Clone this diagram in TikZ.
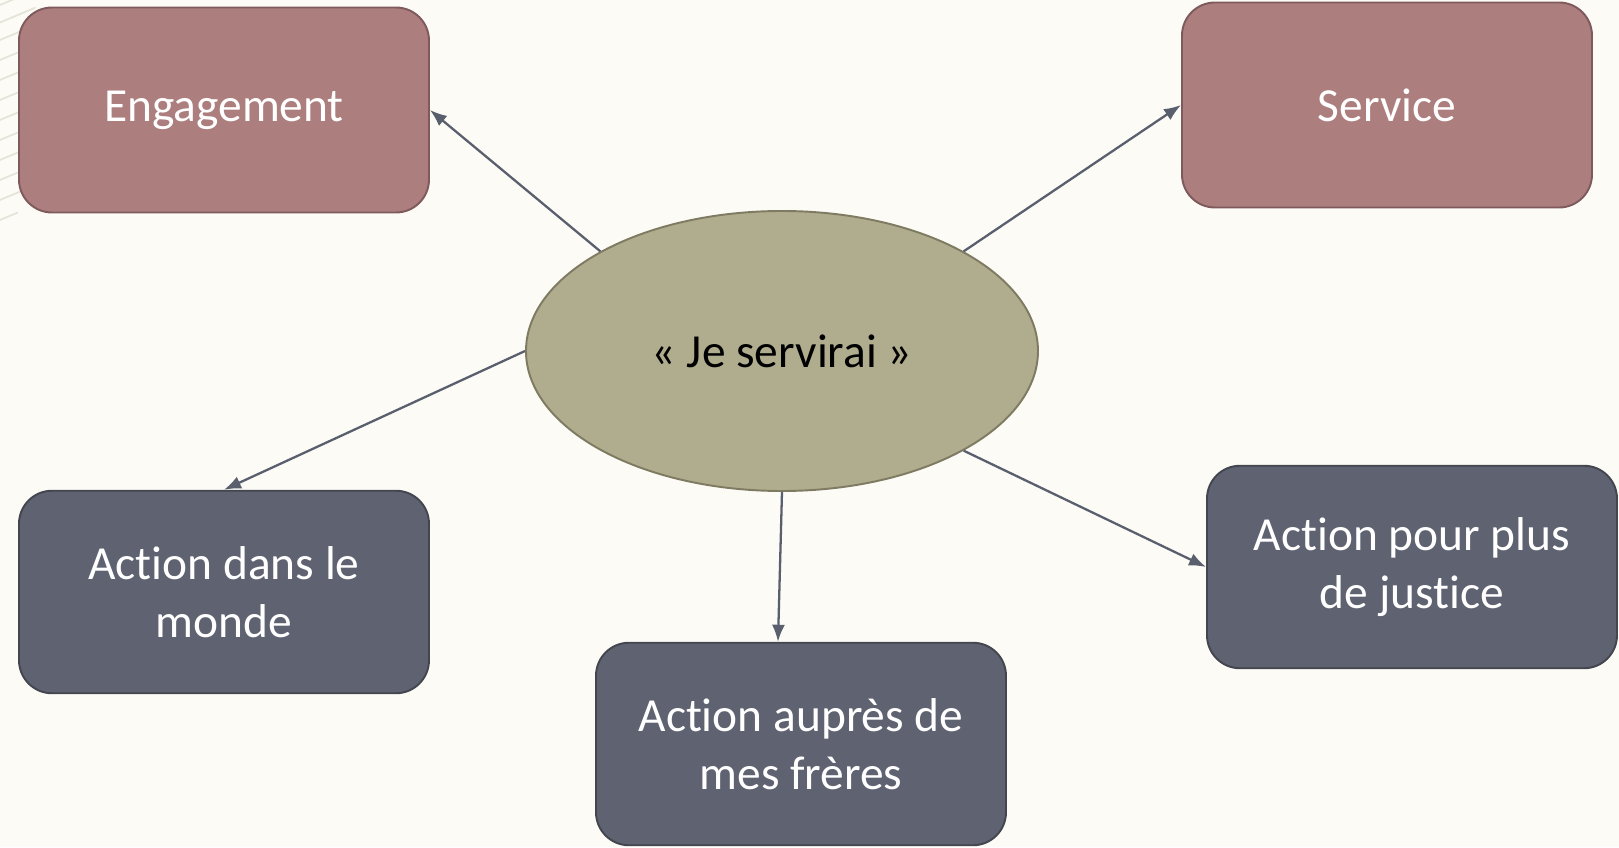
\documentclass[tikz,border=0pt]{standalone}
\usepackage{fontspec}
\setmainfont{Carlito}[Ligatures={NoCommon, NoRare}]
\usepackage{xcolor}
\usetikzlibrary{shapes.geometric, arrows.meta, positioning}

\definecolor{paper}{HTML}{FCFBF6}
\definecolor{sketch}{HTML}{E6E4D9}
\definecolor{mottofill}{HTML}{B0AC8E}
\definecolor{mottoedge}{HTML}{7F7B62}
\definecolor{pillarfill}{HTML}{AD7E7E}
\definecolor{pillaredge}{HTML}{7E5A5C}
\definecolor{actionfill}{HTML}{5F6271}
\definecolor{actionedge}{HTML}{43464F}
\definecolor{linkcolor}{HTML}{5A5F6E}

\begin{document}
\begin{tikzpicture}[node distance=1cm, on grid, auto]

    % Define style for boxes
    \tikzstyle{motto} = [ellipse, minimum width=10.24cm, minimum height=5.6cm, text centered, draw=mottoedge, fill=mottofill, line width=1.1pt, font=\fontsize{27}{33}\selectfont]
    \tikzstyle{pillar} = [rectangle, rounded corners=0.66cm, minimum width=8.2cm, minimum height=4.1cm, align=center, draw=pillaredge, fill=pillarfill, text=white, line width=1.1pt, font=\fontsize{27}{33}\selectfont]
    \tikzstyle{actionbox} = [rectangle, rounded corners=0.66cm, minimum width=8.2cm, minimum height=4.05cm, align=center, draw=actionedge, fill=actionfill, text=white, line width=1.1pt, font=\fontsize{27}{33}\selectfont]
    \tikzstyle{link} = [-{Latex[length=0.34cm, width=0.26cm]}, draw=linkcolor, fill=linkcolor, line width=1.3pt]

    % Background
    \useasboundingbox (-15.64,-9.92) rectangle (16.74,7.02);
    \fill[paper] (-15.64,-9.92) rectangle (16.74,7.02);
    \begin{scope}
        \clip (-15.64,-9.92) rectangle (16.74,7.02);
        \foreach \y/\l in {0.1/0.9,0.45/0.7,0.8/0.6,1.2/0.7,1.6/0.5,2.0/0.6,2.4/0.5,2.8/0.55,3.2/0.45,3.6/0.5,4.0/0.4,4.4/0.35}
            \draw[sketch, line width=1pt, line cap=round] (-15.64,7.02-\y) -- ++(\l,0.42*\l);
    \end{scope}

    % Nodes
    \node (jeservirai) [motto] {« Je servirai »};
    \node (engagement) [pillar, above left=4.82cm and 11.16cm of jeservirai] {Engagement};
    \node (service) [pillar, above right=4.92cm and 12.10cm of jeservirai] {Service};
    \node (monde) [actionbox, below left=4.82cm and 11.16cm of jeservirai] {Action dans le\\monde};
    \node (freres) [actionbox, below right=7.86cm and 0.38cm of jeservirai] {Action auprès de\\mes frères};
    \node (justice) [actionbox, below right=4.32cm and 12.60cm of jeservirai] {Action pour plus\\de justice};

    % Lines
    \draw[link] (jeservirai.north west) -- (engagement.east);
    \draw[link] (jeservirai.north east) -- (service.west);
    \draw[link] (jeservirai.west) -- (monde.north);
    \draw[link] (jeservirai.south) -- ([xshift=-0.46cm]freres.north);
    \draw[link] (jeservirai.south east) -- (justice.west);

\end{tikzpicture}
\end{document}
